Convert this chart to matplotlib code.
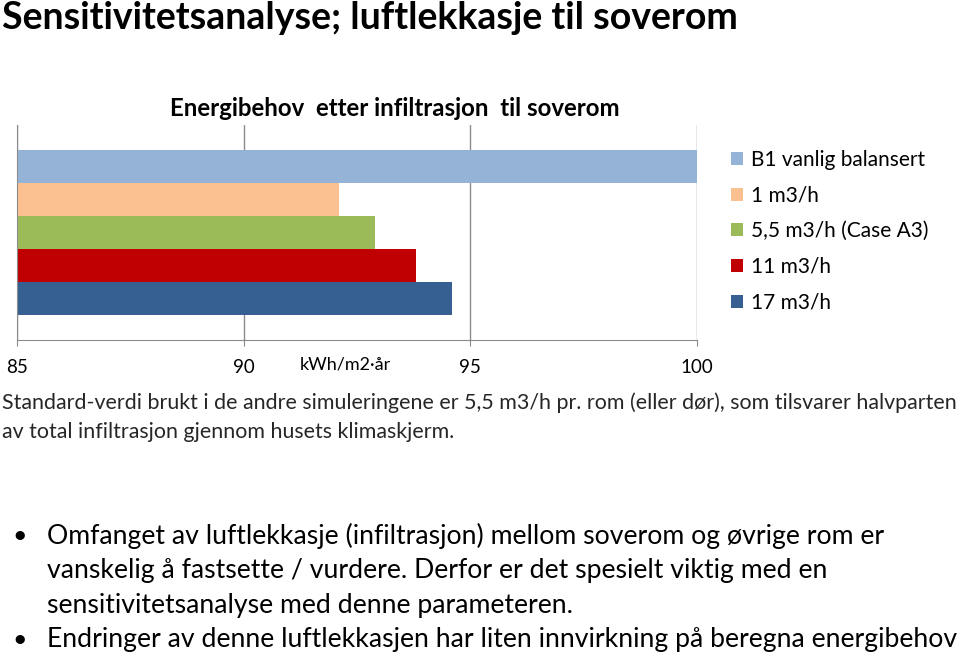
import matplotlib
matplotlib.use("Agg")
import matplotlib.pyplot as plt
from matplotlib.patches import Patch

plt.rcParams['font.family'] = ['Lato', 'DejaVu Sans']

# data
series = ['B1 vanlig balansert', '1 m3/h', '5,5 m3/h (Case A3)', '11 m3/h', '17 m3/h']
values = [100.0, 92.1, 92.9, 93.8, 94.6]
colors = ['#95B3D7', '#FAC090', '#9BBB59', '#C00000', '#366092']
xticks = [85, 90, 95, 100]

page_title = "Sensitivitetsanalyse; luftlekkasje til soverom"
chart_title = "Energibehov  etter infiltrasjon  til soverom"
unit_label = "kWh/m2·år"
note_lines = ["Standard-verdi brukt i de andre simuleringene er 5,5 m3/h pr. rom (eller dør), som tilsvarer halvparten",
              "av total infiltrasjon gjennom husets klimaskjerm."]
bullets = [["Omfanget av luftlekkasje (infiltrasjon) mellom soverom og øvrige rom er",
            "vanskelig å fastsette / vurdere. Derfor er det spesielt viktig med en",
            "sensitivitetsanalyse med denne parameteren."],
           ["Endringer av denne luftlekkasjen har liten innvirkning på beregna energibehov"]]

W, H = 960, 654
fig = plt.figure(figsize=(W / 100, H / 100), dpi=100)

# plot area in pixels: x 17..697, y 125..340
ax = fig.add_axes([17 / W, 1 - 340 / H, 680 / W, 215 / H])
n = len(series)
ypos = [n - 1 - i for i in range(n)]
left = xticks[0]
ax.barh(ypos, [v - left for v in values], left=left, height=1.0, color=colors)
ax.set_xlim(85, 100)
ax.set_ylim(-1.26, n - 1 + 1.26)
ax.set_xticks(xticks)
ax.set_yticks([])
ax.grid(axis='x', color='#8C8C8C', lw=1)
ax.set_axisbelow(True)
for s in ['top', 'right']:
    ax.spines[s].set_visible(False)
for s in ['left', 'bottom']:
    ax.spines[s].set_color('#8C8C8C')
ax.tick_params(axis='x', length=4, color='#8C8C8C', labelsize=13.5, pad=10)
ax.text((345 - 17) / 680, -0.116, unit_label, transform=ax.transAxes,
        ha='center', va='center', fontsize=13)

fig.text(395 / W, 1 - 108 / H, chart_title, ha='center', va='center',
         fontsize=17.3, fontweight='bold')
fig.text(2 / W, 1 - 18 / H, page_title, ha='left', va='center',
         fontsize=27, fontweight='bold')

handles = [Patch(facecolor=c, edgecolor='none') for c in colors]
fig.legend(handles, series, loc='upper left', bbox_to_anchor=(731 / W, 1 - 150 / H),
           frameon=False, fontsize=15, handlelength=0.58, handleheight=0.58,
           handletextpad=0.4, labelspacing=0.75, borderaxespad=0, borderpad=0)

for i, line in enumerate(note_lines):
    fig.text(2 / W, 1 - (403 + 29 * i) / H, line, ha='left', va='center',
             fontsize=15.4, color='#262626')

y = 536
for para in bullets:
    fig.text(12 / W, 1 - y / H, "•", ha='left', va='center', fontsize=18)
    for line in para:
        fig.text(47 / W, 1 - y / H, line, ha='left', va='center', fontsize=19.2)
        y += 34.5

fig.savefig("out.png", dpi=100)
